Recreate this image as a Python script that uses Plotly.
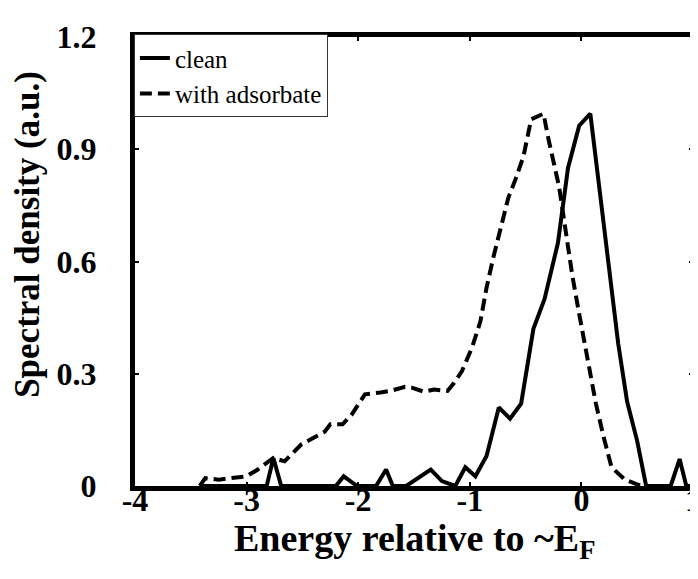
import plotly.graph_objects as go

# clean surface spectral density
clean_x = [-3.40, -2.82, -2.76, -2.69, -2.20, -2.13, -2.01, -1.84, -1.75, -1.69, -1.57, -1.47,
           -1.35, -1.25, -1.13, -1.04, -0.95, -0.85, -0.74, -0.64, -0.54, -0.43, -0.33, -0.21,
           -0.12, -0.02, 0.08, 0.20, 0.33, 0.41, 0.50, 0.58, 0.80, 0.88, 0.94, 1.00]
clean_y = [0.0, 0.0, 0.075, 0.0, 0.0, 0.026, 0.0, 0.0, 0.044, 0.0, 0.0, 0.021,
           0.044, 0.013, 0.0, 0.050, 0.026, 0.080, 0.210, 0.180, 0.220, 0.420, 0.500, 0.650,
           0.850, 0.963, 0.995, 0.700, 0.380, 0.225, 0.120, 0.0, 0.0, 0.072, 0.0, 0.0]

# with adsorbate
ads_x = [-3.42, -3.37, -3.25, -3.10, -3.00, -2.90, -2.76, -2.66, -2.57, -2.51, -2.40, -2.30,
         -2.25, -2.14, -2.06, -1.99, -1.94, -1.80, -1.70, -1.58, -1.52, -1.41, -1.32, -1.20,
         -1.14, -1.07, -0.98, -0.905, -0.85, -0.79, -0.71, -0.655, -0.59, -0.52, -0.45, -0.34,
         -0.29, -0.20, -0.14, -0.08, -0.02, 0.07, 0.13, 0.20, 0.27, 0.39, 0.51, 0.60]
ads_y = [0.0, 0.021, 0.017, 0.021, 0.026, 0.044, 0.075, 0.066, 0.093, 0.111, 0.129, 0.145,
         0.165, 0.165, 0.190, 0.225, 0.245, 0.250, 0.255, 0.265, 0.263, 0.252, 0.258, 0.254,
         0.276, 0.307, 0.370, 0.440, 0.530, 0.610, 0.700, 0.770, 0.820, 0.880, 0.980, 0.995,
         0.920, 0.800, 0.680, 0.560, 0.460, 0.320, 0.220, 0.130, 0.050, 0.017, 0.003, 0.0]

x_ticks = [-4, -3, -2, -1, 0, 1]
y_ticks = [0, 0.3, 0.6, 0.9, 1.2]
y_tick_labels = ["0", "0.3", "0.6", "0.9", "1.2"]
x_title = "<b>Energy relative to ~E<sub>F</sub></b>"
y_title = "<b>Spectral density (a.u.)</b>"

serif = "Times New Roman"

fig = go.Figure()
fig.add_trace(go.Scatter(x=clean_x, y=clean_y, mode="lines", name="clean",
                         line=dict(color="black", width=4)))
fig.add_trace(go.Scatter(x=ads_x, y=ads_y, mode="lines", name="with adsorbate",
                         line=dict(color="black", width=4, dash="12px,6px")))

fig.update_layout(
    width=698, height=579,
    margin=dict(l=127, r=5, t=29, b=101),
    paper_bgcolor="white", plot_bgcolor="white",
    font=dict(family=serif, color="black"),
    showlegend=True,
    legend=dict(x=-0.002, y=1.006, xanchor="left", yanchor="top",
                bgcolor="white", bordercolor="#333", borderwidth=1,
                font=dict(family=serif, size=25, color="black"),
                tracegroupgap=0, itemwidth=30),
    xaxis=dict(range=[-4, 1], tickvals=x_ticks, ticktext=[str(v) for v in x_ticks],
               showline=True, linecolor="black", linewidth=5, mirror="ticks",
               ticks="inside", ticklen=4, tickwidth=2, tickcolor="black",
               showgrid=False, zeroline=False, ticklabelstandoff=-18,
               tickfont=dict(family=serif, size=32, color="black", weight="bold")),
    yaxis=dict(range=[0, 1.2], tickvals=y_ticks, ticktext=y_tick_labels,
               showline=True, linecolor="black", linewidth=5, mirror="ticks",
               ticks="inside", ticklen=4, tickwidth=2, tickcolor="black",
               showgrid=False, zeroline=False, ticklabelstandoff=27,
               tickfont=dict(family=serif, size=32, color="black", weight="bold")),
    annotations=[
        dict(text=x_title, xref="paper", yref="paper", x=0.5, y=-0.064,
             xanchor="center", yanchor="top", showarrow=False,
             font=dict(family=serif, size=38, color="black")),
        dict(text=y_title, xref="paper", yref="paper", x=-0.193, y=0.56,
             xanchor="center", yanchor="middle", showarrow=False, textangle=-90,
             font=dict(family=serif, size=35, color="black")),
    ],
)

fig.write_html("out.html")
